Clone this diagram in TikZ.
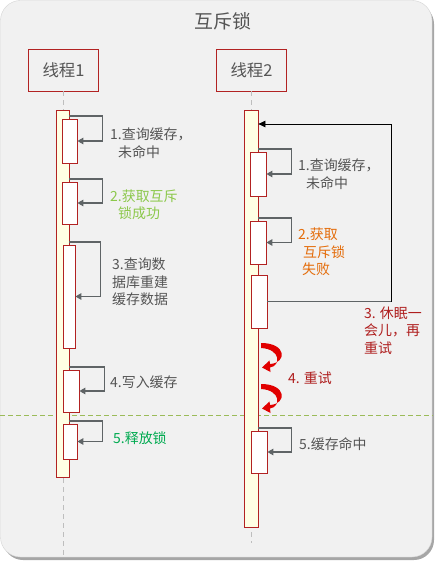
\documentclass[tikz,border=0pt]{standalone}
\usepackage{fontspec}
\setmainfont{Noto Sans CJK SC}
\usepackage{xcolor}
\usepackage{tikz}
\usetikzlibrary{arrows.meta, positioning, calc}
\definecolor{bgcolor}{RGB}{241, 241, 241}
\definecolor{edgecolor}{RGB}{212, 212, 212}
\definecolor{framecolor}{RGB}{178, 34, 34}
\definecolor{barcolor}{RGB}{255, 255, 228}
\definecolor{arrowcolor}{RGB}{95, 100, 102}
\definecolor{textgrey}{RGB}{85, 85, 85}
\definecolor{okgreen}{RGB}{140, 200, 75}
\definecolor{failorange}{RGB}{228, 108, 10}
\definecolor{retryred}{RGB}{175, 30, 30}
\definecolor{swooshred}{RGB}{225, 0, 0}
\definecolor{freegreen}{RGB}{0, 170, 80}
\definecolor{splitcolor}{RGB}{155, 187, 89}
\definecolor{lifecolor}{RGB}{190, 190, 190}

\begin{document}
\begin{tikzpicture}[x=1bp, y=-1bp,
    thread/.style={draw=framecolor, line width=0.8bp, fill=bgcolor, minimum width=70bp, minimum height=42bp, font=\fontsize{16.5}{19}\selectfont, text=textgrey},
    actbar/.style={draw=framecolor, line width=0.8bp, fill=barcolor, inner sep=0pt},
    callbox/.style={draw=framecolor, line width=0.8bp, fill=white, inner sep=0pt},
    selfarrow/.style={draw=arrowcolor, line width=1.3bp, -{Triangle[length=6bp, width=6.5bp]}},
    note/.style={anchor=west, inner sep=0pt, align=left, font=\fontsize{14}{17.5}\selectfont, text=textgrey},
    lifeline/.style={draw=lifecolor, line width=0.9bp, dash pattern=on 5bp off 4bp},
    swoosh/.style={fill=swooshred}]
    \useasboundingbox (0, 0) rectangle (435, 561);

    % Frame
    \fill[black!35, rounded corners=20bp] (3, 4) rectangle (434, 560);
    \draw[edgecolor, fill=bgcolor, rounded corners=20bp] (0.5, 0.5) rectangle (432, 557);
    \node[font=\fontsize{19}{21}\selectfont, text=textgrey] (title) at (223, 21) {互斥锁};

    % Threads and lifelines
    \node[thread] (t1) at (63.5, 70) {线程1};
    \node[thread] (t2) at (251.5, 70) {线程2};
    \coordinate (end1) at (63.5, 559);
    \coordinate (end2) at (251.5, 543);
    \draw[lifeline] (t1.south) -- (end1);
    \draw[lifeline] (t2.south) -- (end2);

    % Split line
    \coordinate (splitl) at (0, 415);
    \coordinate (splitr) at (433, 415);
    \draw[splitcolor, line width=0.8bp, dash pattern=on 5bp off 3bp] (splitl) -- (splitr);

    % Activation bars
    \node[actbar, minimum width=13bp, minimum height=367bp] (bar1) at (62.5, 293.5) {};
    \node[actbar, minimum width=14bp, minimum height=417bp] (bar2) at (251, 318.5) {};

    % Thread 1 calls
    \node[callbox, minimum width=15bp, minimum height=44bp] (b11) at (69.5, 141) {};
    \node[callbox, minimum width=15bp, minimum height=42bp] (b12) at (69.5, 203) {};
    \node[callbox, minimum width=12bp, minimum height=103bp] (b13) at (69, 296.5) {};
    \node[callbox, minimum width=16bp, minimum height=42bp] (b14) at (71, 391) {};
    \node[callbox, minimum width=14bp, minimum height=35bp] (b15) at (70, 441.5) {};

    \draw[selfarrow] ([yshift=2.5bp]b11.north -| bar1.east) -- ++(33, 0) |- (b11.east);
    \draw[selfarrow] ([yshift=2.5bp]b12.north -| bar1.east) -- ++(33, 0) |- (b12.east);
    \draw[selfarrow] ([yshift=2.5bp]b13.north -| bar1.east) -- ++(31, 0) |- (b13.east);
    \draw[selfarrow] ([yshift=2.5bp]b14.north -| bar1.east) -- ++(35, 0) |- (b14.east);
    \draw[selfarrow] ([yshift=2.5bp]b15.north -| bar1.east) -- ++(33, 0) |- (b15.east);

    \node[note] (n11) at (110, 143) {1.查询缓存，\\\hspace*{8bp}未命中};
    \node[note, text=okgreen] (n12) at (110, 204.5) {2.获取互斥\\\hspace*{8bp}锁成功};
    \node[note] (n13) at (112, 282) {3.查询数\\据库重建\\缓存数据};
    \node[note] (n14) at (110, 382) {4.写入缓存};
    \node[note, text=freegreen] (n15) at (113, 438) {5.释放锁};

    % Thread 2 calls
    \node[callbox, minimum width=16bp, minimum height=44bp] (b21) at (258, 174) {};
    \node[callbox, minimum width=16bp, minimum height=43bp] (b22) at (258, 242.5) {};
    \node[callbox, minimum width=16bp, minimum height=53bp] (b23) at (259, 301.5) {};
    \node[callbox, minimum width=16bp, minimum height=42bp] (b24) at (259, 452) {};

    \draw[selfarrow] ([yshift=2.5bp]b21.north -| bar2.east) -- ++(33, 0) |- (b21.east);
    \draw[selfarrow] ([yshift=2.5bp]b22.north -| bar2.east) -- ++(33, 0) |- (b22.east);
    \draw[selfarrow] ([yshift=2.5bp]b24.north -| bar2.east) -- ++(33, 0) |- (b24.east);

    % Sleep and retry
    \coordinate (back) at (391, 124);
    \draw[arrowcolor, line width=1.3bp] (b23.east) -- (b23.east -| back);
    \draw[black, line width=0.8bp, -{Triangle[length=7bp, width=6.5bp]}] (b23.east -| back) -- (back) -- (back -| bar2.east);

    \coordinate (r1) at (261, 343);
    \coordinate (r2) at (261, 384);
    \foreach \r in {r1, r2}
        \fill[swoosh, shift={(\r)}] (0, 0) .. controls (26, 0) and (26, 20) .. (9, 21) -- (8.5, 17.5) -- (1, 24.5)
            -- (9.5, 29) -- (9, 24.5) .. controls (20, 23) and (20, 6) .. (0, 5) -- cycle;

    \node[note] (n21) at (298, 174) {1.查询缓存，\\\hspace*{8bp}未命中};
    \node[note, text=failorange] (n22) at (298, 252) {2.获取\\\hspace*{5bp}互斥锁\\\hspace*{4bp}失败};
    \node[note, text=retryred] (n23) at (364, 330.5) {3. 休眠一\\会儿，再\\重试};
    \node[note, text=retryred] (n24) at (288, 378) {4. 重试};
    \node[note] (n25) at (299, 444) {5.缓存命中};
\end{tikzpicture}
\end{document}
